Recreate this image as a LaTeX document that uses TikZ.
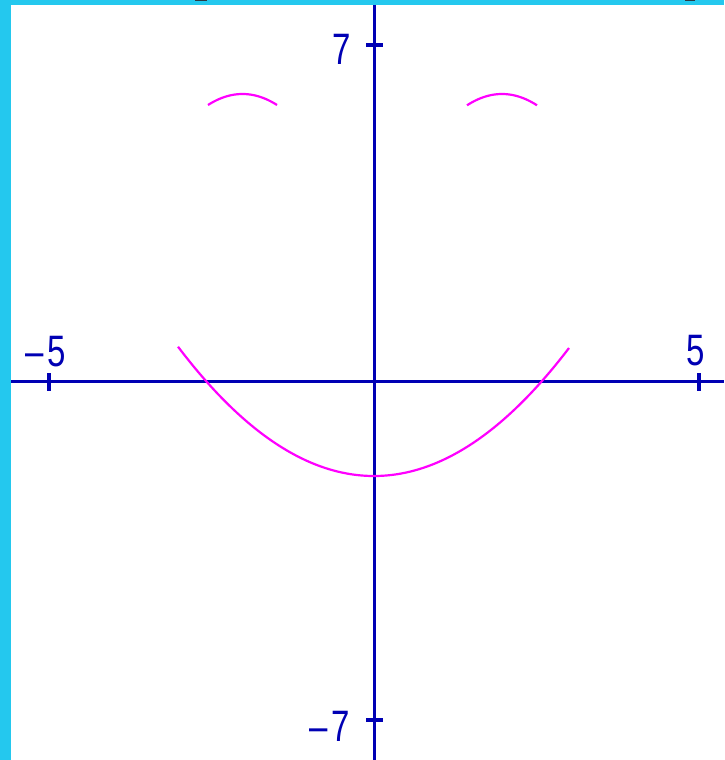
\documentclass[tikz,border=0pt]{standalone}
\usepackage{fontspec}
\setmainfont{Liberation Sans}
\definecolor{axisblue}{HTML}{0000B4}
\definecolor{curvemag}{HTML}{FF00FF}
\definecolor{framecyan}{HTML}{24C8EE}
\definecolor{markgray}{HTML}{2A3A44}
\begin{document}
\begin{tikzpicture}[x=1pt,y=-1pt,
  lbl/.style={text=axisblue, font=\fontsize{44}{44}\selectfont, inner sep=0pt, anchor=base west},
  axisline/.style={draw=axisblue, line width=3.8pt},
  tickline/.style={draw=axisblue, line width=4pt},
  curve/.style={draw=curvemag, line width=2.2pt}]
\useasboundingbox (0,0) rectangle (724,760);
\fill[white] (0,0) rectangle (724,760);
\fill[framecyan] (0,0) rectangle (11,760);
\fill[framecyan] (0,0) rectangle (724,5);
\fill[markgray] (195,0) rectangle (207,1.5);
\fill[markgray] (685,0) rectangle (695,1.5);
% axes
\coordinate (xl) at (11,381.5);
\coordinate (xr) at (724,381.5);
\coordinate (yt) at (374.5,5);
\coordinate (yb) at (374.5,760);
\draw[axisline] (xl) -- (xr);
\draw[axisline] (yt) -- (yb);
% ticks
\draw[tickline] (49,373) -- (49,391);
\draw[tickline] (699,373) -- (699,391);
\draw[tickline] (366,45) -- (383,45);
\draw[tickline] (366,720) -- (383,720);
% labels
\node[lbl] (l7) at (332,65) {\scalebox{0.75}[1]{7}};
\node[lbl] (lm7) at (309,741) {\scalebox{0.75}[1]{–\kern5pt7}};
\node[lbl] (lm5) at (25,366) {\scalebox{0.75}[1]{–\kern5pt5}};
\node[lbl] (l5) at (686,365) {\scalebox{0.75}[1]{5}};
% curves
\draw[curve] plot[domain=178:569, samples=120] (\x, {476-33.66*((\x-374)/100)^2});
\draw[curve] plot[domain=208:277, samples=40] (\x, {94+92.4*((\x-242.5)/100)^2});
\draw[curve] plot[domain=467:537, samples=40] (\x, {94+92.4*((\x-502)/100)^2});
\end{tikzpicture}
\end{document}
